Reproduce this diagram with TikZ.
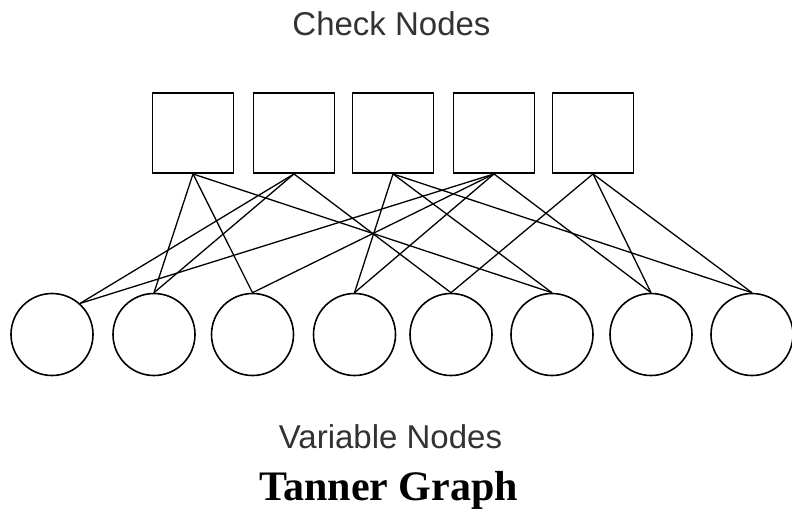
\documentclass[tikz,border=0pt]{standalone}
\usepackage{fontspec}
\setmainfont{Liberation Serif}
\newfontfamily\labelfont{Liberation Sans}
\begin{document}
\begin{tikzpicture}[x=1pt,y=-1pt,
  check/.style={draw=black,line width=1.9pt,minimum width=81pt,minimum height=80pt,inner sep=0pt},
  var/.style={draw=black,line width=1.6pt,circle,minimum size=82pt,inner sep=0pt},
  link/.style={draw=black,line width=1.3pt},
  caption/.style={font=\labelfont\fontsize{33}{36}\selectfont,text=black!80,anchor=base},
  title/.style={font=\fontsize{42}{45}\selectfont\bfseries,anchor=base}]
\useasboundingbox (0,0) rectangle (792,509);

% check nodes
\foreach \i/\x in {1/193,2/294,3/393,4/494,5/593}
  \node[check] (s\i) at (\x,133) {};

% variable nodes
\foreach \i/\x in {1/52,2/154,3/252.5,4/354.5,5/451,6/552,7/651,8/752}
  \node[var] (c\i) at (\x,334.5) {};

% edges of the Tanner graph
\foreach \s/\c in {1/2,1/3,1/6,2/2,2/5,3/4,3/6,3/8,4/3,4/4,4/7,5/5,5/7,5/8}
  \draw[link] (s\s.south) -- (c\c.north);
\draw[link] (s2.south) -- (c1.48);
\draw[link] (s4.south) -- (c1.48);

% labels
\node[caption] (ctitle) at (391.5,35) {Check Nodes};
\node[caption] (vtitle) at (390.5,448) {Variable Nodes};
\node[title] (gtitle) at (388.5,500) {Tanner Graph};
\end{tikzpicture}
\end{document}
